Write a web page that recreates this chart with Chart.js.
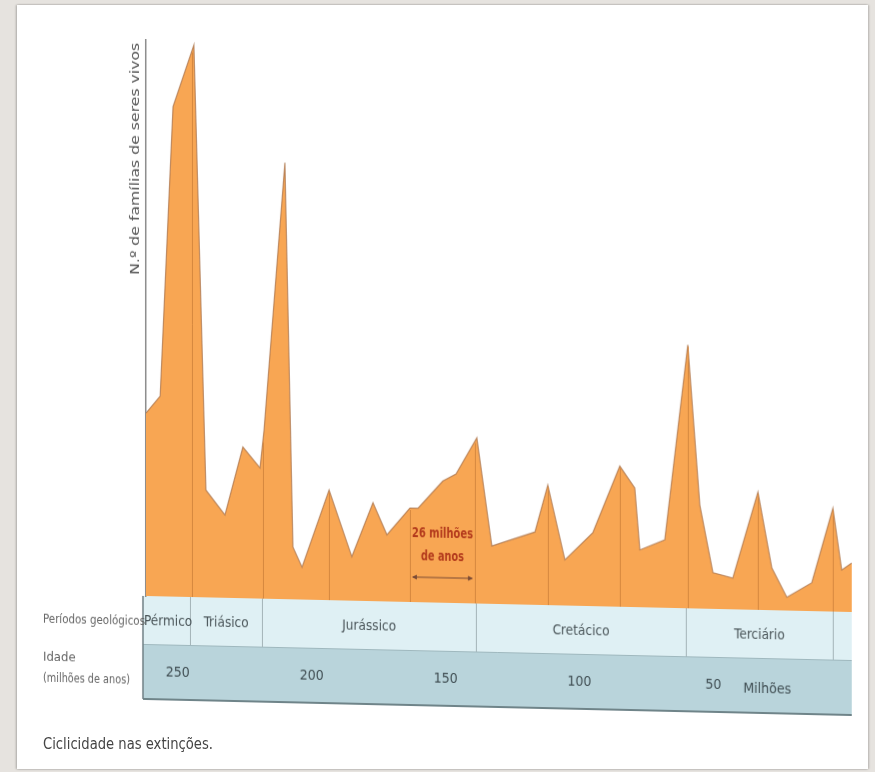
<!DOCTYPE html>
<html><head><meta charset="utf-8">
<script src="https://cdn.jsdelivr.net/npm/chart.js@4.4.1/dist/chart.umd.min.js"></script>
<style>
html,body{margin:0;padding:0;background:#e6e3df;width:875px;height:772px;overflow:hidden;}
#frame{position:absolute;left:17px;top:5px;width:851px;height:764px;background:#fff;box-shadow:-1px 0 2px rgba(0,0,0,0.25),1px 0 2px rgba(0,0,0,0.2);}
#c{position:absolute;left:0;top:0;transform:skewY(1.3deg);transform-origin:146px 0;}
#cap{position:absolute;left:43px;top:734px;font:16px 'Liberation Sans Narrow','DejaVu Sans Condensed','Liberation Sans',sans-serif;color:#444;white-space:nowrap;transform-origin:0 50%;display:inline-block;}
</style></head><body>
<div id="frame"></div>
<canvas id="c" width="875" height="772"></canvas>
<div id="cap"></div>
<script>
// ---- data ----
const ages = [261.9, 256.6, 251.8, 244.0, 239.5, 232.4, 225.7, 219.3, 217.8, 210.0, 207.0, 203.6, 193.5, 185.0, 177.1, 171.9, 163.3, 160.3, 151.0, 146.1, 138.3, 132.7, 116.6, 111.8, 105.4, 95.0, 84.9, 79.3, 77.4, 68.1, 59.5, 55.0, 50.1, 42.7, 33.3, 28.1, 22.5, 13.2, 5.3, 2.0, -1.75];
const families = [32.9, 36.0, 88.1, 99.3, 19.3, 14.9, 27.2, 23.5, 30.3, 78.5, 9.4, 5.8, 19.8, 7.9, 17.7, 12.0, 16.9, 16.9, 21.9, 23.2, 29.8, 10.4, 13.1, 21.6, 8.2, 13.2, 25.3, 21.4, 10.3, 12.2, 47.4, 18.6, 6.5, 5.6, 21.2, 7.6, 2.4, 5.1, 18.6, 7.5, 8.8];
const extinctionAges = [244.7, 218.2, 193.5, 163.3, 139.0, 111.8, 84.9, 59.5, 33.3, 5.3];
const periodNames = ['Pérmico', 'Triásico', 'Jurássico', 'Cretácico', 'Terciário', ''];
const periodBounds = [261.9, 245.4, 218.5, 138.6, 60.2, 5.3, -1.75];
const ageTicks = [250, 200, 150, 100, 50];
const ageUnit = 'Milhões';
const yTitle = 'N.º de famílias de seres vivos';
const bandTitles = ['Períodos geológicos', 'Idade', '(milhões de anos)'];
const intervalLabel = ['26 milhões', 'de anos'];
const intervalAges = [163.3, 139.0];
const caption = 'Ciclicidade nas extinções.';

const NARROW = "'Liberation Sans Narrow','DejaVu Sans Condensed','Liberation Sans',sans-serif";

function fitText(ctx, text, x, y, w, font, color, align) {
  ctx.save();
  ctx.font = font; ctx.fillStyle = color; ctx.textBaseline = 'middle';
  const m = ctx.measureText(text).width;
  ctx.translate(x, y); ctx.scale(w / m, 1);
  ctx.textAlign = align || 'center';
  ctx.fillText(text, 0, 0);
  ctx.restore();
}
function valueAt(a) {
  for (let i = 0; i < ages.length - 1; i++) {
    if (a <= ages[i] && a >= ages[i + 1]) {
      const t = (ages[i] - a) / (ages[i] - ages[i + 1]);
      return families[i] + t * (families[i + 1] - families[i]);
    }
  }
  return 0;
}

const decor = {
  id: 'decor',
  beforeDraw(chart) {
    const {ctx, chartArea, scales: {x}} = chart;
    const L = 143, R = chartArea.right, t = chartArea.bottom, mid = 644, bot = 699;
    ctx.save();
    ctx.fillStyle = '#dff0f4'; ctx.fillRect(L, t, R - L, mid - t);
    ctx.fillStyle = '#b9d4db'; ctx.fillRect(L, mid, R - L, bot - mid);
    ctx.strokeStyle = '#9fb8be'; ctx.lineWidth = 1;
    ctx.beginPath(); ctx.moveTo(L, mid + 0.5); ctx.lineTo(R, mid + 0.5); ctx.stroke();
    ctx.strokeStyle = '#6f8489'; ctx.lineWidth = 2;
    ctx.beginPath(); ctx.moveTo(L, bot); ctx.lineTo(R, bot); ctx.stroke();
    ctx.strokeStyle = '#6f7f84'; ctx.lineWidth = 1.5;
    ctx.beginPath(); ctx.moveTo(L, t); ctx.lineTo(L, bot); ctx.stroke();
    ctx.strokeStyle = '#a3b3b7'; ctx.lineWidth = 1;
    for (let i = 1; i < periodBounds.length - 1; i++) {
      const px = Math.round(x.getPixelForValue(periodBounds[i])) + 0.5;
      ctx.beginPath(); ctx.moveTo(px, t); ctx.lineTo(px, mid); ctx.stroke();
    }
    for (let i = 0; i < periodNames.length; i++) {
      if (!periodNames[i]) continue;
      const cx = (x.getPixelForValue(periodBounds[i]) + x.getPixelForValue(periodBounds[i + 1])) / 2;
      ctx.font = '13.5px ' + NARROW; ctx.fillStyle = '#4a5559';
      ctx.textAlign = 'center'; ctx.textBaseline = 'middle';
      ctx.fillText(periodNames[i], cx, 621);
    }
    ctx.font = '13px ' + NARROW; ctx.fillStyle = '#666'; ctx.textAlign = 'left'; ctx.textBaseline = 'middle';
    fitText(ctx, bandTitles[0], 43, 622, 102, '13px ' + NARROW, '#666', 'left');
    ctx.fillText(bandTitles[1], 43, 660);
    fitText(ctx, bandTitles[2], 43, 681, 87, '13px ' + NARROW, '#666', 'left');
    ctx.restore();
  },
  afterDatasetsDraw(chart) {
    const {ctx, scales: {x, y}} = chart;
    ctx.save();
    ctx.strokeStyle = '#d5873e'; ctx.lineWidth = 1;
    for (const a of extinctionAges) {
      const px = Math.round(x.getPixelForValue(a)) + 0.5;
      ctx.beginPath(); ctx.moveTo(px, y.getPixelForValue(0)); ctx.lineTo(px, y.getPixelForValue(valueAt(a)) + 2); ctx.stroke();
    }
    const x1 = x.getPixelForValue(intervalAges[0]), x2 = x.getPixelForValue(intervalAges[1]);
    const cx = (x1 + x2) / 2;
    fitText(ctx, intervalLabel[0], cx, 527, 61, 'bold 14px ' + NARROW, '#b33a1c', 'center');
    fitText(ctx, intervalLabel[1], cx, 550, 43, 'bold 14px ' + NARROW, '#b33a1c', 'center');
    const ay = 571;
    ctx.strokeStyle = '#7a4a35'; ctx.fillStyle = '#7a4a35'; ctx.lineWidth = 1;
    ctx.beginPath(); ctx.moveTo(x1 + 3, ay); ctx.lineTo(x2 - 3, ay); ctx.stroke();
    ctx.beginPath(); ctx.moveTo(x1 + 2, ay); ctx.lineTo(x1 + 7, ay - 2.5); ctx.lineTo(x1 + 7, ay + 2.5); ctx.closePath(); ctx.fill();
    ctx.beginPath(); ctx.moveTo(x2 - 2, ay); ctx.lineTo(x2 - 7, ay - 2.5); ctx.lineTo(x2 - 7, ay + 2.5); ctx.closePath(); ctx.fill();
    ctx.restore();
  },
  afterDraw(chart) {
    const {ctx, scales: {x}} = chart;
    ctx.save();
    ctx.font = '14px ' + NARROW; ctx.fillStyle = '#3f4d52';
    ctx.textAlign = 'left'; ctx.textBaseline = 'middle';
    ctx.fillText(ageUnit, x.getPixelForValue(ageTicks[ageTicks.length - 1]) + 30, 675);
    ctx.translate(136, 159); ctx.rotate(-Math.PI / 2);
    fitText(ctx, yTitle, 0, 0, 232, '12px ' + NARROW, '#555', 'center');
    ctx.restore();
  }
};

new Chart(document.getElementById('c'), {
  type: 'line',
  data: {
    datasets: [{
      data: ages.map((a, i) => ({x: a, y: families[i]})),
      fill: 'origin',
      backgroundColor: '#f8a653',
      borderColor: 'rgba(170,115,75,0.75)',
      borderWidth: 1.2,
      pointRadius: 0,
      tension: 0
    }]
  },
  options: {
    responsive: false,
    devicePixelRatio: 1,
    animation: false,
    layout: {autoPadding: false, padding: {left: 146, right: 23, top: 40, bottom: 0}},
    plugins: {legend: {display: false}, tooltip: {enabled: false}},
    scales: {
      x: {
        type: 'linear', reverse: true, min: -1.75, max: 261.9,
        grid: {display: false, drawTicks: false},
        border: {display: false},
        afterBuildTicks: s => { s.ticks = ageTicks.map(v => ({value: v})); },
        afterFit: s => { s.height = 176; },
        ticks: {padding: 68, color: '#3f4d52', font: {size: 14, family: NARROW}, maxRotation: 0}
      },
      y: {
        min: 0, max: 100,
        grid: {display: false, drawTicks: false},
        ticks: {display: false},
        border: {display: true, color: '#8c8c8c', width: 1.5},
        afterFit: s => { s.width = 0; }
      }
    }
  },
  plugins: [decor]
});

const cap = document.getElementById('cap');
cap.textContent = caption;
const w = cap.offsetWidth;
cap.style.transform = 'scaleX(' + (170 / w) + ')';
</script>
</body></html>
